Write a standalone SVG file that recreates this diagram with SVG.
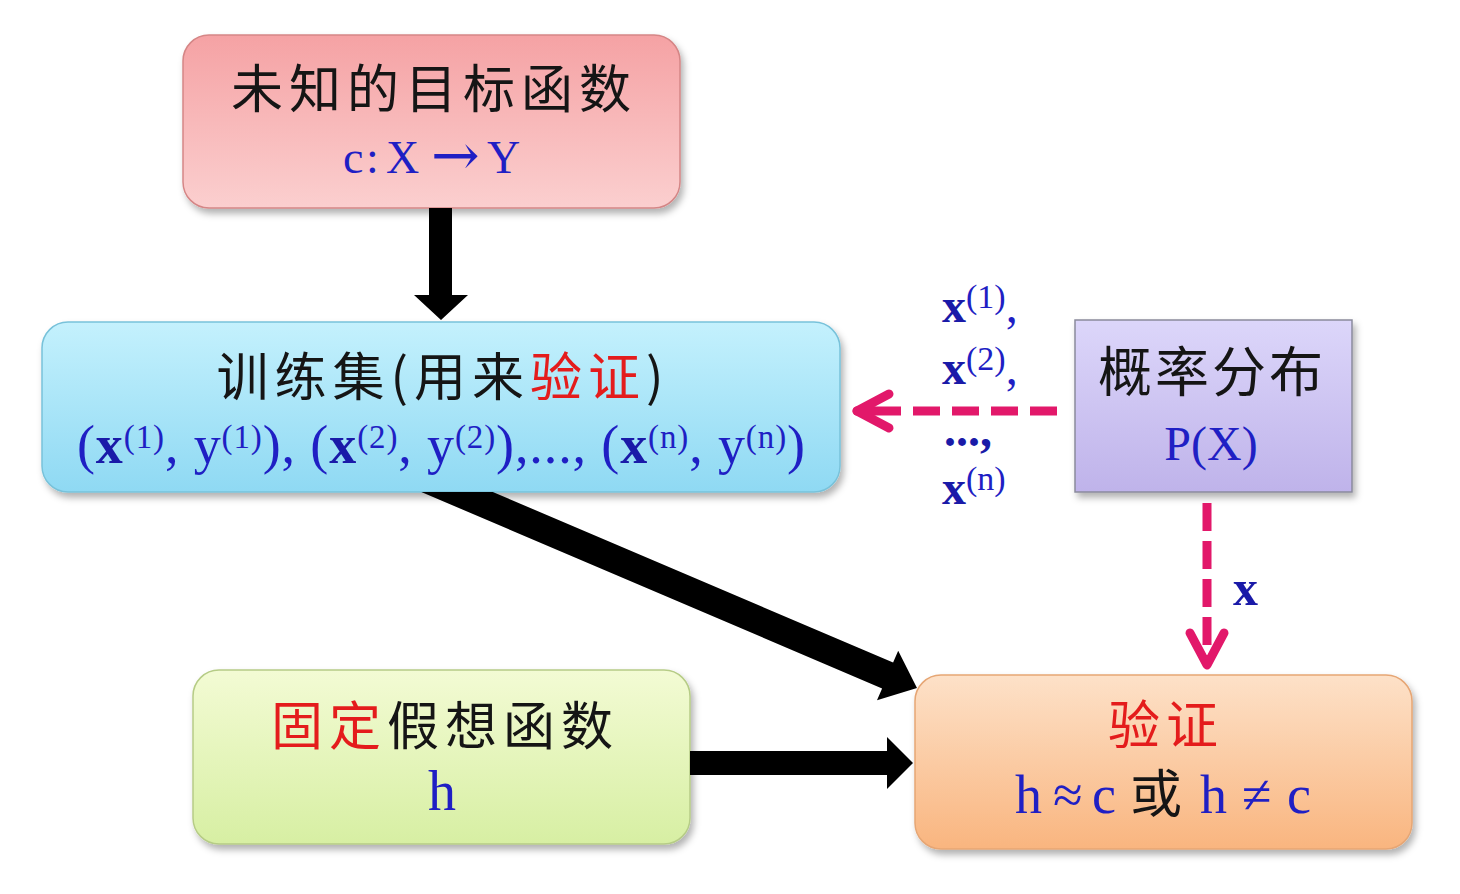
<svg xmlns="http://www.w3.org/2000/svg" width="1460" height="894" viewBox="0 0 1460 894">
<style>
.cn{font-family:"Noto Sans CJK SC","Noto Sans",sans-serif;fill:#151515}
.ser{font-family:"Liberation Serif","Times New Roman",serif;fill:#1f1fc4}
.b{font-weight:bold;fill:#1a1aa8}
.red{fill:#e41c1c}
.box{stroke-width:1.5;filter:url(#sh)}
.dash{fill:none;stroke:#e2186a;stroke-width:9}
.head{fill:none;stroke:#e2186a;stroke-width:9;stroke-linecap:round;stroke-linejoin:round}
.blk{fill:#000}
</style>
<defs>
<filter id="sh" x="-10%" y="-10%" width="120%" height="130%">
<feDropShadow dx="3" dy="5" stdDeviation="3.5" flood-color="#000" flood-opacity="0.3"/>
</filter>
<linearGradient id="gPink" x1="0" y1="0" x2="0" y2="1"><stop offset="0" stop-color="#f5a2a4"/><stop offset="1" stop-color="#fbcfcf"/></linearGradient>
<linearGradient id="gBlue" x1="0" y1="0" x2="0" y2="1"><stop offset="0" stop-color="#c4f1fd"/><stop offset="1" stop-color="#8fd9f3"/></linearGradient>
<linearGradient id="gGreen" x1="0" y1="0" x2="0" y2="1"><stop offset="0" stop-color="#f3fbd4"/><stop offset="1" stop-color="#d7efa3"/></linearGradient>
<linearGradient id="gOrange" x1="0" y1="0" x2="0" y2="1"><stop offset="0" stop-color="#fde1c8"/><stop offset="1" stop-color="#f9b57f"/></linearGradient>
<linearGradient id="gPurple" x1="0" y1="0" x2="0" y2="1"><stop offset="0" stop-color="#dcd6fa"/><stop offset="1" stop-color="#bfb3ea"/></linearGradient>
</defs>
<rect width="1460" height="894" fill="#ffffff"/>

<g id="n-target">
<rect class="box" x="183" y="35" width="497" height="173" rx="26" fill="url(#gPink)" stroke="#d58686"/>
<text class="cn" x="434" y="108" font-size="52" letter-spacing="6" text-anchor="middle">未知的目标函数</text>
<text class="ser" y="173" font-size="46"><tspan x="343">c</tspan><tspan x="366">:</tspan><tspan x="386">X</tspan><tspan x="431" font-family="DejaVu Serif, serif" font-size="58" dy="2">→</tspan><tspan x="487" dy="-2">Y</tspan></text>
</g>

<g id="n-train">
<rect class="box" x="42" y="322" width="798" height="170" rx="26" fill="url(#gBlue)" stroke="#78c2da"/>
<text class="cn" x="443" y="396" font-size="52" letter-spacing="6" text-anchor="middle">训练集(用来<tspan class="red">验证</tspan>)</text>
<text class="ser" x="77" y="463" font-size="54" textLength="728" lengthAdjust="spacing">(<tspan class="b">x</tspan><tspan dy="-15" font-size="33">(1)</tspan><tspan dy="15">, y</tspan><tspan dy="-15" font-size="33">(1)</tspan><tspan dy="15">), (</tspan><tspan class="b">x</tspan><tspan dy="-15" font-size="33">(2)</tspan><tspan dy="15">, y</tspan><tspan dy="-15" font-size="33">(2)</tspan><tspan dy="15">),..., (</tspan><tspan class="b">x</tspan><tspan dy="-15" font-size="33">(n)</tspan><tspan dy="15">, y</tspan><tspan dy="-15" font-size="33">(n)</tspan><tspan dy="15">)</tspan></text>
</g>

<g id="n-prob">
<rect class="box" x="1075" y="320" width="277" height="172" fill="url(#gPurple)" stroke="#8a8a9c"/>
<text class="cn" x="1212" y="392" font-size="54" letter-spacing="3" text-anchor="middle">概率分布</text>
<text class="ser" x="1211" y="460" font-size="48" text-anchor="middle">P(X)</text>
</g>

<g id="n-hyp">
<rect class="box" x="193" y="670" width="497" height="174" rx="26" fill="url(#gGreen)" stroke="#b6cc86"/>
<text class="cn" x="445" y="745" font-size="52" letter-spacing="6" text-anchor="middle"><tspan class="red">固定</tspan>假想函数</text>
<text class="ser" x="442" y="810" font-size="56" text-anchor="middle">h</text>
</g>

<g id="n-verify">
<rect class="box" x="915" y="675" width="497" height="174" rx="26" fill="url(#gOrange)" stroke="#e6a674"/>
<text class="cn red" x="1166" y="744" font-size="52" letter-spacing="6" text-anchor="middle">验证</text>
<text class="ser" y="813" font-size="54"><tspan x="1015">h</tspan><tspan x="1053">≈</tspan><tspan x="1092">c</tspan><tspan class="cn" x="1130" font-size="52">或</tspan><tspan x="1200">h</tspan><tspan x="1242">≠</tspan><tspan x="1287">c</tspan></text>
</g>

<g id="labels">
<text class="ser" x="942" y="322" font-size="48"><tspan class="b">x</tspan><tspan dy="-14" font-size="34">(1)</tspan><tspan dy="14">,</tspan></text>
<text class="ser" x="942" y="384" font-size="48"><tspan class="b">x</tspan><tspan dy="-14" font-size="34">(2)</tspan><tspan dy="14">,</tspan></text>
<text class="ser b" x="944" y="446" font-size="48">...,</text>
<text class="ser" x="942" y="504" font-size="48"><tspan class="b">x</tspan><tspan dy="-14" font-size="34">(n)</tspan></text>
<text class="ser b" x="1233" y="605" font-size="50">x</text>
</g>

<g id="connectors">
<polygon class="blk" points="429,208 452,208 452,295 468,295 441,320 414,295 429,295"/>
<polygon class="blk" points="421.3,492 492.8,492 893.1,662.6 898.2,650.7 917,688 877,700.3 882.1,688.4"/>
<polygon class="blk" points="690,751 887,751 887,737 913,763 887,789 887,775 690,775"/>
<line class="dash" x1="1057" y1="411" x2="870" y2="411" stroke-dasharray="27 12"/>
<polyline class="head" points="889,394 857,411 889,428"/>
<line class="head" x1="857" y1="411" x2="874" y2="411"/>
<line class="dash" x1="1207" y1="503" x2="1207" y2="662" stroke-dasharray="28 10"/>
<polyline class="head" points="1190,633 1207,665 1224,633"/>
</g>
</svg>
